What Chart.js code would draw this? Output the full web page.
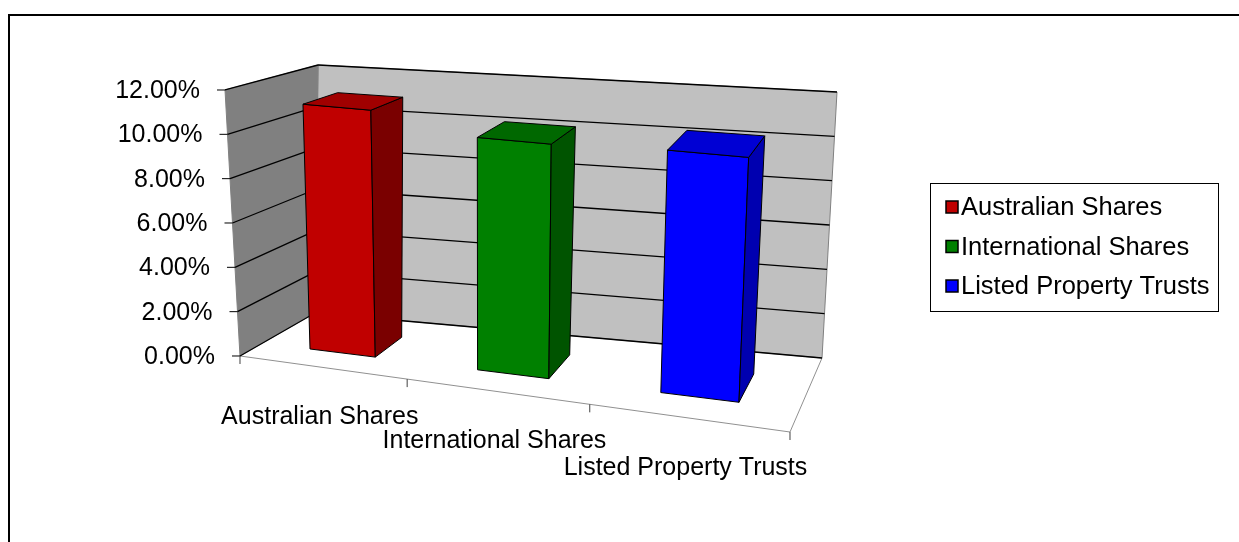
<!DOCTYPE html>
<html>
<head>
<meta charset="utf-8">
<script src="https://cdn.jsdelivr.net/npm/chart.js@4.4.1/dist/chart.umd.min.js"></script>
<style>
  body { margin: 0; background: #fff; }
  canvas { display: block; }
</style>
</head>
<body>
<canvas id="returnsChart" width="1239" height="542"></canvas>
<script>
const CATEGORIES = ['Australian Shares', 'International Shares', 'Listed Property Trusts'];
const RETURNS = [0.112, 0.104, 0.106];
const Y_TICKS = [0, 0.02, 0.04, 0.06, 0.08, 0.10, 0.12];

const FACE = ['#C00000', '#008000', '#0000FF'];
const SIDE = ['#7A0000', '#005400', '#0000B0'];
const TOP = ['#A00000', '#006800', '#0000D4'];
const FONT = '25px "Liberation Sans", Arial, sans-serif';
const LEGEND_FONT = '25.5px "Liberation Sans", Arial, sans-serif';

// corners of the 3d box, as fractions of the chart area (f = front, b = back)
const BOX = {
  fbl: [0.0245, 0.7929], fbr: [0.9232, 1.0],
  bbl: [0.1471, 0.6757], bbr: [0.9755, 0.7984],
  ftl: [0.0, 0.0681], ftr: [0.9444, 0.2234],
  btl: [0.1520, 0.0], btr: [1.0, 0.0736]
};
const PERSPECTIVE = 1.145;
const DEPTH = [0.3, 0.7];

function lerp(a, b, k) {
  return [a[0] + (b[0] - a[0]) * k, a[1] + (b[1] - a[1]) * k];
}

function project(area, u, v, w) {
  let t = u / (u + PERSPECTIVE * (1 - u));
  let fb = lerp(BOX.fbl, BOX.fbr, t), bb = lerp(BOX.bbl, BOX.bbr, t);
  let ft = lerp(BOX.ftl, BOX.ftr, t), bt = lerp(BOX.btl, BOX.btr, t);
  let p = lerp(lerp(fb, bb, w), lerp(ft, bt, w), v);
  return [area.left + p[0] * area.width, area.top + p[1] * area.height];
}

function poly(ctx, pts, fill, stroke, lw) {
  ctx.beginPath();
  pts.forEach((p, i) => i ? ctx.lineTo(p[0], p[1]) : ctx.moveTo(p[0], p[1]));
  ctx.closePath();
  if (fill) { ctx.fillStyle = fill; ctx.fill(); }
  if (stroke) { ctx.strokeStyle = stroke; ctx.lineWidth = lw || 1; ctx.stroke(); }
}

function line(ctx, a, b, color, lw) {
  ctx.beginPath();
  ctx.moveTo(a[0], a[1]);
  ctx.lineTo(b[0], b[1]);
  ctx.strokeStyle = color;
  ctx.lineWidth = lw || 1;
  ctx.stroke();
}

const threeD = {
  id: 'threeD',
  beforeDatasetsDraw(chart) {
    const ctx = chart.ctx;
    const area = chart.chartArea;
    const x = chart.scales.x, y = chart.scales.y;
    const P = (u, v, w) => project(area, u, v, w);
    const toU = px => (px - area.left) / area.width;
    const toV = py => (area.bottom - py) / area.height;

    ctx.save();
    // walls and floor
    poly(ctx, [P(0, 0, 1), P(1, 0, 1), P(1, 1, 1), P(0, 1, 1)], '#C0C0C0', '#808080');
    poly(ctx, [P(0, 0, 0), P(0, 0, 1), P(0, 1, 1), P(0, 1, 0)], '#808080', '#808080');
    poly(ctx, [P(0, 0, 0), P(1, 0, 0), P(1, 0, 1), P(0, 0, 1)], '#FFFFFF', '#909090');

    // gridlines, y ticks and labels
    ctx.font = FONT;
    ctx.fillStyle = '#000';
    ctx.textAlign = 'right';
    ctx.textBaseline = 'middle';
    Y_TICKS.forEach(t => {
      let v = toV(y.getPixelForValue(t));
      line(ctx, P(0, v, 0), P(0, v, 1), '#000', 1.3);
      line(ctx, P(0, v, 1), P(1, v, 1), '#000', 1.3);
      let f = P(0, v, 0);
      line(ctx, [f[0] - 8, f[1]], f, '#000', 1);
      ctx.fillText((t * 100).toFixed(2) + '%', f[0] - 25, f[1] + 1);
    });

    // category ticks and labels on the floor's front edge
    ctx.textAlign = 'center';
    for (let i = 0; i <= CATEGORIES.length; i++) {
      let f = P(toU(x.getPixelForValue(i - 0.5)), 0, 0);
      line(ctx, f, [f[0], f[1] + 8], '#404040', 1);
    }
    CATEGORIES.forEach((c, i) => {
      let f = P(toU(x.getPixelForValue(i)), 0, 0);
      ctx.fillText(c, f[0] - 2, f[1] + 50);
    });

    // bars as boxes
    const meta = chart.getDatasetMeta(0);
    meta.data.forEach((bar, i) => {
      let u0 = toU(bar.x - bar.width / 2), u1 = toU(bar.x + bar.width / 2);
      let v0 = toV(bar.base), v1 = toV(bar.y);
      let w0 = DEPTH[0], w1 = DEPTH[1];
      poly(ctx, [P(u0, v0, w0), P(u1, v0, w0), P(u1, v1, w0), P(u0, v1, w0)], FACE[i], '#000', 1);
      poly(ctx, [P(u1, v0, w0), P(u1, v0, w1), P(u1, v1, w1), P(u1, v1, w0)], SIDE[i], '#000', 1);
      poly(ctx, [P(u0, v1, w0), P(u1, v1, w0), P(u1, v1, w1), P(u0, v1, w1)], TOP[i], '#000', 1);
    });
    ctx.restore();
    return false;
  },
  afterDraw(chart) {
    const ctx = chart.ctx;
    ctx.save();
    // chart border (only top and left fall inside the picture)
    ctx.beginPath();
    ctx.moveTo(9, chart.height);
    ctx.lineTo(9, 15);
    ctx.lineTo(chart.width, 15);
    ctx.strokeStyle = '#000';
    ctx.lineWidth = 2;
    ctx.stroke();

    // legend box
    ctx.strokeStyle = '#000';
    ctx.lineWidth = 1;
    ctx.strokeRect(930.5, 183.5, 288, 128);
    ctx.font = LEGEND_FONT;
    ctx.textAlign = 'left';
    ctx.textBaseline = 'middle';
    CATEGORIES.forEach((c, i) => {
      let cy = 207 + i * 39.5;
      ctx.fillStyle = FACE[i];
      ctx.fillRect(946, cy - 6, 12, 12);
      ctx.lineWidth = 1.5;
      ctx.strokeRect(946, cy - 6, 12, 12);
      ctx.fillStyle = '#000';
      ctx.fillText(c, 961, cy + 1);
    });
    ctx.restore();
  }
};

new Chart(document.getElementById('returnsChart'), {
  type: 'bar',
  data: {
    labels: CATEGORIES,
    datasets: [{
      label: 'Return',
      data: RETURNS,
      backgroundColor: FACE,
      barPercentage: 0.4,
      categoryPercentage: 1.0
    }]
  },
  options: {
    responsive: false,
    animation: false,
    devicePixelRatio: 1,
    layout: { padding: { left: 225, top: 65, right: 402, bottom: 110 } },
    scales: {
      x: { display: false, offset: true },
      y: { display: false, min: 0, max: 0.12 }
    },
    plugins: {
      legend: { display: false },
      tooltip: { enabled: false }
    }
  },
  plugins: [threeD]
});
</script>
</body>
</html>
